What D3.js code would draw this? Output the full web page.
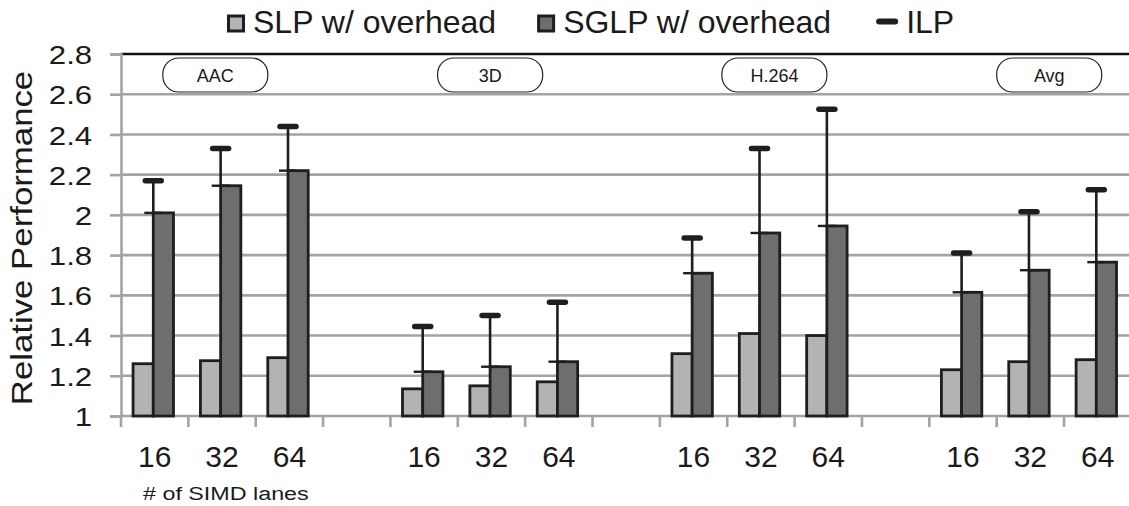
<!DOCTYPE html>
<html>
<head>
<meta charset="utf-8">
<script src="https://cdn.jsdelivr.net/npm/d3@7"></script>
<style>
  body { margin: 0; background: #fff; }
  svg { display: block; font-family: "Liberation Sans", Arial, sans-serif; }
</style>
</head>
<body>
<svg id="chart" width="1129" height="506"></svg>
<script>
// ---- data ----
var groups = ["AAC", "3D", "H.264", "Avg"];
var lanes = ["16", "32", "64"];
var slp  = [1.26, 1.275, 1.29,  1.135, 1.15, 1.17,  1.31, 1.41, 1.40,  1.23, 1.27, 1.28];
var sglp = [2.01, 2.145, 2.22,  1.22, 1.245, 1.27,  1.71, 1.91, 1.945, 1.615, 1.725, 1.765];
var ilp  = [2.17, 2.33, 2.44,   1.445, 1.50, 1.565, 1.885, 2.33, 2.525, 1.81, 2.015, 2.125];
var yTicks = [1, 1.2, 1.4, 1.6, 1.8, 2, 2.2, 2.4, 2.6, 2.8];
var legendNames = ["SLP w/ overhead", "SGLP w/ overhead", "ILP"];

// where the group name boxes sit, in category units
var groupLabelAt = [1.4, 5.48, 9.7, 13.78];

var light = "#b3b3b3", dark = "#6e6e6e", ink = "#1e1e1e", grid = "#a3a3a3";

// categories: 3 lanes per group, one empty slot between groups
var cats = [];
var rows = [];
groups.forEach(function (g, gi) {
    lanes.forEach(function (l, li) {
        var k = g + "-" + l;
        cats.push(k);
        var i = gi * 3 + li;
        rows.push({ key: k, lane: l, slp: slp[i], sglp: sglp[i], ilp: ilp[i] });
    });
    if (gi < groups.length - 1) cats.push("gap" + gi);
});

var svg = d3.select("#chart");
var plotLeft = 121, plotRight = 1131.4, plotTop = 54, plotBottom = 416;

var x = d3.scaleBand().domain(cats).range([plotLeft, plotRight]).padding(0);
var xi = d3.scaleLinear().domain([0, cats.length]).range([plotLeft, plotRight]);
var y = d3.scaleLinear().domain([1, 2.8]).range([plotBottom, plotTop]);
var bw = x.bandwidth() * 0.3;
var cx = function (k) { return x(k) + x.bandwidth() / 2 - 1.4; };

// gridlines
svg.append("g")
    .selectAll("line")
    .data(yTicks.slice(1))
    .join("line")
    .attr("x1", plotLeft).attr("x2", 1129)
    .attr("y1", d => y(d)).attr("y2", d => y(d))
    .attr("stroke", d => d === 2.8 ? "#111" : grid)
    .attr("stroke-width", 2.6);

// y axis
var yAxis = svg.append("g")
    .attr("transform", "translate(" + plotLeft + ",0)")
    .call(d3.axisLeft(y).tickValues(yTicks).tickSize(11).tickFormat(d3.format("")));
yAxis.select(".domain").attr("stroke", grid).attr("stroke-width", 2.6);
yAxis.selectAll(".tick line").attr("stroke", grid).attr("stroke-width", 2.6);
yAxis.selectAll(".tick text")
    .attr("x", -24)
    .attr("dy", "0.37em")
    .attr("transform", "scale(1.2,1)")
    .attr("font-size", 26)
    .attr("font-family", "Liberation Sans, Arial, sans-serif")
    .attr("fill", "#1a1a1a");

// bottom axis line + ticks on category boundaries
svg.append("line")
    .attr("x1", plotLeft).attr("x2", 1129)
    .attr("y1", plotBottom).attr("y2", plotBottom)
    .attr("stroke", grid).attr("stroke-width", 2.6);
svg.append("g")
    .selectAll("line")
    .data(d3.range(cats.length + 1))
    .join("line")
    .attr("x1", d => xi(d)).attr("x2", d => xi(d))
    .attr("y1", plotBottom).attr("y2", plotBottom + 11)
    .attr("stroke", grid).attr("stroke-width", 2.6);

// bars
var bars = svg.append("g");
bars.selectAll("rect.slp")
    .data(rows)
    .join("rect")
    .attr("class", "slp")
    .attr("x", d => cx(d.key) - bw)
    .attr("width", bw)
    .attr("y", d => y(d.slp))
    .attr("height", d => y(1) - y(d.slp))
    .attr("fill", light).attr("stroke", ink).attr("stroke-width", 2.8);
bars.selectAll("rect.sglp")
    .data(rows)
    .join("rect")
    .attr("class", "sglp")
    .attr("x", d => cx(d.key))
    .attr("width", bw)
    .attr("y", d => y(d.sglp))
    .attr("height", d => y(1) - y(d.sglp))
    .attr("fill", dark).attr("stroke", ink).attr("stroke-width", 2.8);

// ILP error bars
var err = svg.append("g");
err.selectAll("line.stem")
    .data(rows)
    .join("line")
    .attr("class", "stem")
    .attr("x1", d => cx(d.key)).attr("x2", d => cx(d.key))
    .attr("y1", d => y(d.sglp)).attr("y2", d => y(d.ilp))
    .attr("stroke", ink).attr("stroke-width", 2.6);
err.selectAll("line.low")
    .data(rows)
    .join("line")
    .attr("class", "low")
    .attr("x1", d => cx(d.key) - 9).attr("x2", d => cx(d.key) + 9)
    .attr("y1", d => y(d.sglp)).attr("y2", d => y(d.sglp))
    .attr("stroke", ink).attr("stroke-width", 2.4);
err.selectAll("line.cap")
    .data(rows)
    .join("line")
    .attr("class", "cap")
    .attr("x1", d => cx(d.key) - 8).attr("x2", d => cx(d.key) + 8)
    .attr("y1", d => y(d.ilp)).attr("y2", d => y(d.ilp))
    .attr("stroke", ink).attr("stroke-width", 5.5)
    .attr("stroke-linecap", "round");

// lane labels
svg.append("g")
    .selectAll("text")
    .data(rows)
    .join("text")
    .attr("x", d => x(d.key) + x.bandwidth() / 2)
    .attr("y", 467)
    .attr("text-anchor", "middle")
    .attr("font-size", 30)
    .attr("fill", "#1a1a1a")
    .text(d => d.lane);

svg.append("text")
    .attr("transform", "translate(143,500) scale(1.24,1)")
    .attr("font-size", 18.8)
    .attr("fill", "#1a1a1a")
    .text("# of SIMD lanes");

// y title
svg.append("text")
    .attr("transform", "translate(32,238) rotate(-90) scale(1.2,1)")
    .attr("text-anchor", "middle")
    .attr("font-size", 29)
    .attr("fill", "#1a1a1a")
    .text("Relative Performance");

// group name boxes
var gl = svg.append("g")
    .selectAll("g")
    .data(groups)
    .join("g")
    .attr("transform", (d, i) => "translate(" + xi(groupLabelAt[i]) + ",75)");
gl.append("rect")
    .attr("x", -52.5).attr("y", -17)
    .attr("width", 105).attr("height", 34)
    .attr("rx", 16).attr("ry", 16)
    .attr("fill", "#fff").attr("stroke", "#222").attr("stroke-width", 1.2);
gl.append("text")
    .attr("y", 6.5)
    .attr("text-anchor", "middle")
    .attr("font-size", 18)
    .attr("fill", "#1a1a1a")
    .text(d => d);

// legend
var lg = svg.append("g");
var lx = 227;
legendNames.forEach(function (name, i) {
    if (i < 2) {
        lg.append("rect")
            .attr("x", lx + 1.5).attr("y", 16)
            .attr("width", 15).attr("height", 15)
            .attr("fill", i === 0 ? light : dark)
            .attr("stroke", ink).attr("stroke-width", 3);
    } else {
        lg.append("line")
            .attr("x1", lx + 2).attr("x2", lx + 18)
            .attr("y1", 21.5).attr("y2", 21.5)
            .attr("stroke", ink).attr("stroke-width", 6)
            .attr("stroke-linecap", "round");
    }
    var t = lg.append("text")
        .attr("x", lx + (i < 2 ? 26 : 29))
        .attr("y", 33)
        .attr("font-size", 32)
        .attr("fill", "#1a1a1a")
        .text(name);
    lx = lx + (i < 2 ? 26 : 29) + t.node().getComputedTextLength() + (i === 0 ? 41 : 46);
});
</script>
</body>
</html>
